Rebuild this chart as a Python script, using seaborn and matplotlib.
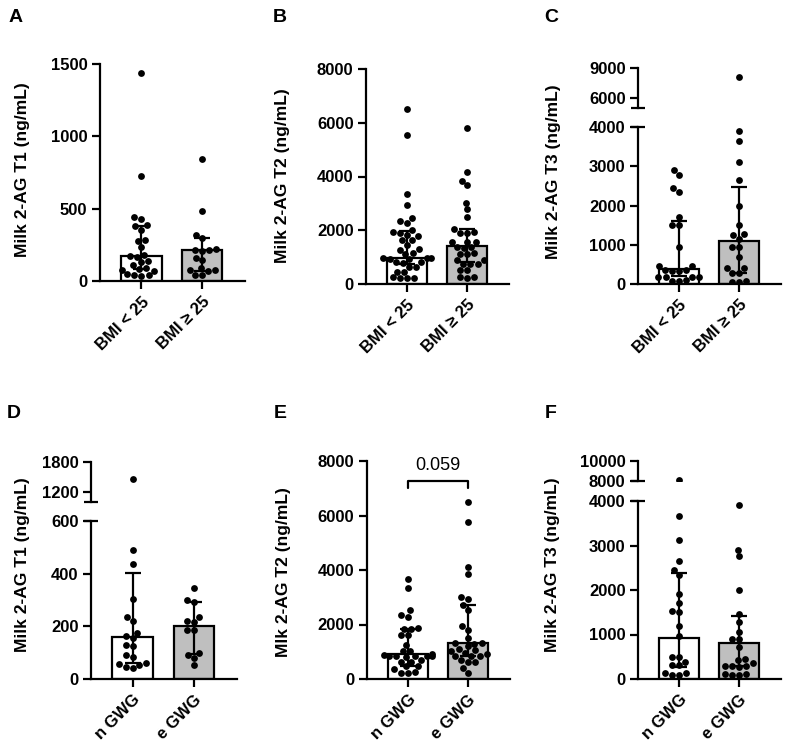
import matplotlib
matplotlib.use('Agg')
import matplotlib.pyplot as plt
import seaborn as sns
import pandas as pd

# group labels
bmi_groups = ['BMI < 25', 'BMI ≥ 25']
gwg_groups = ['n GWG', 'e GWG']

# individual values (ng/mL)
t1_bmi_low = [1440, 725, 440, 432, 385, 378, 355, 282, 275, 235, 178, 172,
              165, 140, 128, 112, 90, 82, 78, 72, 45, 42, 40, 38]
t1_bmi_high = [845, 485, 320, 300, 218, 215, 212, 205, 160, 145, 90, 78,
               75, 70, 42, 40]
t2_bmi_low = [6520, 5540, 3340, 2940, 2440, 2350, 2260, 2000, 1950, 1900,
              1820, 1780, 1640, 1630, 1450, 1290, 1280, 1140, 1130, 980,
              960, 950, 940, 920, 830, 820, 800, 650, 640, 460, 450, 250,
              240, 230, 220]
t2_bmi_high = [5790, 4150, 3850, 3680, 3030, 2780, 2480, 2030, 1920, 1900,
               1880, 1580, 1560, 1550, 1370, 1360, 1350, 1140, 1130, 1120,
               890, 880, 750, 740, 730, 520, 510, 260, 250, 240]
t3_bmi_low = [2910, 2780, 2440, 2340, 1700, 1510, 1500, 940, 460, 450, 360,
              350, 340, 330, 190, 185, 180, 175, 90, 85, 80]
t3_bmi_high = [8100, 3900, 3650, 3120, 2650, 2000, 1510, 1270, 1250, 1140,
               950, 930, 700, 420, 400, 290, 270, 80, 60, 55]
t1_gwg_n = [1460, 490, 437, 304, 237, 221, 176, 163, 155, 128, 125, 91, 82,
            60, 57, 55, 44, 42]
t1_gwg_e = [344, 300, 293, 234, 221, 215, 187, 185, 97, 92, 79, 53]
t2_gwg_n = [3660, 3330, 2530, 2360, 2290, 1860, 1840, 1820, 1620, 1600,
            1250, 1040, 1030, 900, 880, 850, 845, 840, 835, 830, 820, 700,
            640, 630, 470, 460, 350, 240, 230, 220]
t2_gwg_e = [6480, 5750, 4120, 3840, 3020, 2930, 2700, 2530, 1930, 1800,
            1490, 1320, 1310, 1300, 1200, 1100, 1050, 1030, 950, 900, 850,
            840, 830, 700, 640, 630, 420, 230]
t3_gwg_n = [8100, 3660, 3120, 2650, 2460, 2340, 1910, 1710, 1520, 1500,
            1180, 970, 500, 490, 390, 320, 310, 130, 125, 90, 85]
t3_gwg_e = [3910, 2910, 2760, 2010, 1470, 1290, 1060, 910, 900, 730, 440,
            430, 350, 300, 290, 285, 280, 110, 105, 90, 85]

# median with interquartile range per group
t1_bmi_median, t1_bmi_q1, t1_bmi_q3 = [175, 212], [82, 72], [378, 298]
t2_bmi_median, t2_bmi_q1, t2_bmi_q3 = [950, 1410], [750, 830], [1960, 2050]
t3_bmi_median, t3_bmi_q1, t3_bmi_q3 = [385, 1090], [210, 290], [1600, 2480]
t1_gwg_median, t1_gwg_q1, t1_gwg_q3 = [158, 200], [60, 94], [402, 292]
t2_gwg_median, t2_gwg_q1, t2_gwg_q3 = [900, 1310], [470, 850], [1820, 2700]
t3_gwg_median, t3_gwg_q1, t3_gwg_q3 = [930, 800], [280, 290], [2390, 1420]

sns.set_style('ticks')
plt.rcParams['font.family'] = ['Liberation Sans', 'DejaVu Sans']
plt.rcParams['font.weight'] = 'bold'
plt.rcParams['axes.labelweight'] = 'bold'
for key in ['text.color', 'axes.labelcolor', 'xtick.color', 'ytick.color',
            'axes.edgecolor']:
    plt.rcParams[key] = 'black'
plt.rcParams['axes.linewidth'] = 1.6
plt.rcParams['xtick.major.width'] = 1.6
plt.rcParams['ytick.major.width'] = 1.6
plt.rcParams['xtick.major.size'] = 6
plt.rcParams['ytick.major.size'] = 5.5
plt.rcParams['xtick.labelsize'] = 12
plt.rcParams['ytick.labelsize'] = 12
plt.rcParams['axes.labelsize'] = 12.5

W, H = 790, 751
fig = plt.figure(figsize=(W / 100, H / 100), dpi=100)
bar_colors = ['white', '#bfbfbf']


def rect(x0, y0, x1, y1):
    return [x0 / W, 1 - y1 / H, (x1 - x0) / W, (y1 - y0) / H]


def draw_panel(box, groups, vals_a, vals_b, med, q1, q3, ymax, yticks,
               ylabel, label_xy, upper=None):
    ax = fig.add_axes(rect(*box))
    df = pd.DataFrame({'group': [groups[0]] * len(vals_a) + [groups[1]] * len(vals_b),
                       'value': vals_a + vals_b})
    summary = pd.DataFrame({'group': groups, 'median': med})
    sns.barplot(data=summary, x='group', y='median', hue='group', order=groups,
                palette=bar_colors, width=0.66, edgecolor='black', linewidth=1.6,
                legend=False, ax=ax)
    sns.swarmplot(data=df, x='group', y='value', order=groups, color='black',
                  size=4.9, ax=ax, zorder=3)
    ax.errorbar([0, 1], med, yerr=[[m - a for m, a in zip(med, q1)],
                                   [b - m for m, b in zip(med, q3)]],
                fmt='none', ecolor='black', elinewidth=1.6, capsize=6,
                capthick=1.6, zorder=4)
    ax.set_xlim(-0.68, 1.70)
    ax.set_ylim(0, ymax)
    ax.set_yticks(yticks)
    ax.set_xlabel('')
    ax.set_ylabel(ylabel)
    x0, y0, x1, y1 = box
    # label anchor is the right edge of the rotated text
    ax.yaxis.set_label_coords((label_xy[0] + 8 - x0) / (x1 - x0),
                              (y1 - label_xy[1]) / (y1 - y0))
    for lab in ax.get_xticklabels():
        lab.set_rotation(45)
        lab.set_ha('right')
        lab.set_rotation_mode('anchor')
    sns.despine(ax=ax)

    if upper is not None:
        ubox, ylo, yhi, uticks = upper
        ax.plot([0], [1], marker='_', markersize=10, mew=1.6, color='black',
                transform=ax.transAxes, clip_on=False)
        axu = fig.add_axes(rect(*ubox))
        high = df[df['value'] > ylo]
        sns.stripplot(data=high, x='group', y='value', order=groups,
                      color='black', size=4.9, jitter=False, ax=axu)
        axu.set_xlim(-0.68, 1.70)
        axu.set_ylim(ylo, yhi)
        axu.set_yticks(uticks)
        axu.set_xticks([])
        axu.set_xlabel('')
        axu.set_ylabel('')
        sns.despine(ax=axu, bottom=True)
        axu.plot([0], [0], marker='_', markersize=10, mew=1.6, color='black',
                 transform=axu.transAxes, clip_on=False)
    return ax


draw_panel((100, 64, 245, 281), bmi_groups, t1_bmi_low, t1_bmi_high,
           t1_bmi_median, t1_bmi_q1, t1_bmi_q3, 1500, [0, 500, 1000, 1500],
           'Milk 2-AG T1 (ng/mL)', (22, 170))
draw_panel((366, 69, 509, 284), bmi_groups, t2_bmi_low, t2_bmi_high,
           t2_bmi_median, t2_bmi_q1, t2_bmi_q3, 8000, [0, 2000, 4000, 6000, 8000],
           'Milk 2-AG T2 (ng/mL)', (282, 176))
draw_panel((638, 127, 781, 284), bmi_groups, t3_bmi_low, t3_bmi_high,
           t3_bmi_median, t3_bmi_q1, t3_bmi_q3, 4000, [0, 1000, 2000, 3000, 4000],
           'Milk 2-AG T3 (ng/mL)', (553, 172),
           upper=((638, 68, 781, 108), 5000, 9000, [6000, 9000]))
draw_panel((91, 521, 237, 679), gwg_groups, t1_gwg_n, t1_gwg_e,
           t1_gwg_median, t1_gwg_q1, t1_gwg_q3, 600, [0, 200, 400, 600],
           'Milk 2-AG T1 (ng/mL)', (22, 565),
           upper=((91, 462, 237, 502), 1000, 1800, [1200, 1800]))
ax_e = draw_panel((367, 461, 510, 679), gwg_groups, t2_gwg_n, t2_gwg_e,
                  t2_gwg_median, t2_gwg_q1, t2_gwg_q3, 8000,
                  [0, 2000, 4000, 6000, 8000], 'Mlk 2-AG T2 (ng/mL)', (283, 572))
draw_panel((638, 501, 781, 679), gwg_groups, t3_gwg_n, t3_gwg_e,
           t3_gwg_median, t3_gwg_q1, t3_gwg_q3, 4000, [0, 1000, 2000, 3000, 4000],
           'Milk 2-AG T3 (ng/mL)', (552, 565),
           upper=((638, 461, 781, 481), 8000, 10000, [8000, 10000]))

# p-value bracket in E
ax_e.plot([0, 0, 1, 1], [7020, 7250, 7250, 7020], color='black', lw=1.6,
          clip_on=False)
ax_e.text(0.5, 7850, '0.059', ha='center', va='center', fontsize=13,
          fontweight='normal')

for letter, (x, y) in zip('ABCDEF', [(16, 18), (280, 18), (551, 18),
                                     (14, 413), (280, 413), (551, 413)]):
    fig.text(x / W, 1 - y / H, letter, ha='center', va='center', fontsize=14,
             fontweight='bold')

fig.savefig('out.png', dpi=100)
